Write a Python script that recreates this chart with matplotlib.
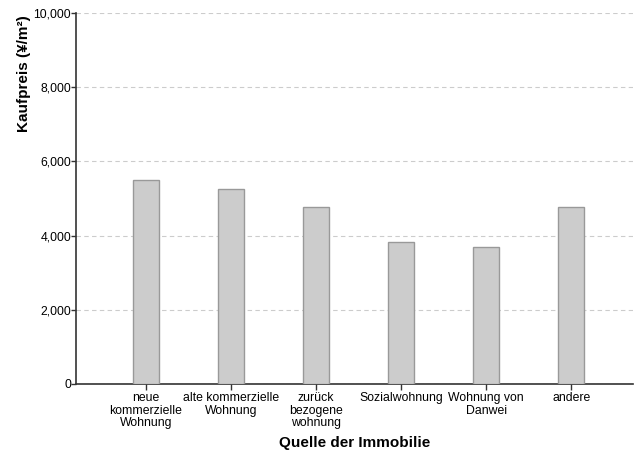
import numpy as np
import matplotlib.pyplot as plt

plt.rcParams['font.family'] = ['Liberation Sans', 'DejaVu Sans']

# ---- Data ----
categories = ["neue\nkommerzielle\nWohnung", "alte kommerzielle\nWohnung",
              "zurück\nbezogene\nwohnung", "Sozialwohnung",
              "Wohnung von\nDanwei", "andere"]
prices = [5510, 5250, 4760, 3830, 3700, 4770]   # Yuan / m²

# ---- Plot ----
fig = plt.figure(figsize=(6.36, 4.57), dpi=100)
ax = fig.add_axes([0.1195, 0.16, 0.875, 0.8115])

x = np.arange(len(categories))
ax.bar(x, prices, width=0.3, color="#cccccc", edgecolor="#999999",
       linewidth=1.0, zorder=3)

ax.set_xlim(-0.82, 5.72)
ax.set_ylim(0, 10000)
ax.set_yticks(np.arange(0, 10001, 2000))
ax.yaxis.set_major_formatter(plt.FuncFormatter(lambda v, p: f"{int(v):,}"))
ax.set_xticks(x)
ax.set_xticklabels(categories, fontsize=8.8, linespacing=1.05)
ax.tick_params(axis="y", labelsize=8.8, length=3.6, width=1, color="#333333", pad=0)
ax.tick_params(axis="x", length=4, width=1, color="#333333", pad=2)

ax.grid(axis="y", ls=(0, (4, 3)), color="#cccccc", lw=0.8, zorder=0)
for s in ["top", "right"]:
    ax.spines[s].set_visible(False)
for s in ["left", "bottom"]:
    ax.spines[s].set_color("#333333")
    ax.spines[s].set_linewidth(1.2)

ax.set_ylabel("Kaufpreis (¥/m²)", fontsize=11, fontweight="bold",
              labelpad=2, loc="top")
ax.yaxis.label.set_y(0.995)
ax.set_xlabel("Quelle der Immobilie", fontsize=11, fontweight="bold", labelpad=5)

plt.savefig("out.png", dpi=100)
